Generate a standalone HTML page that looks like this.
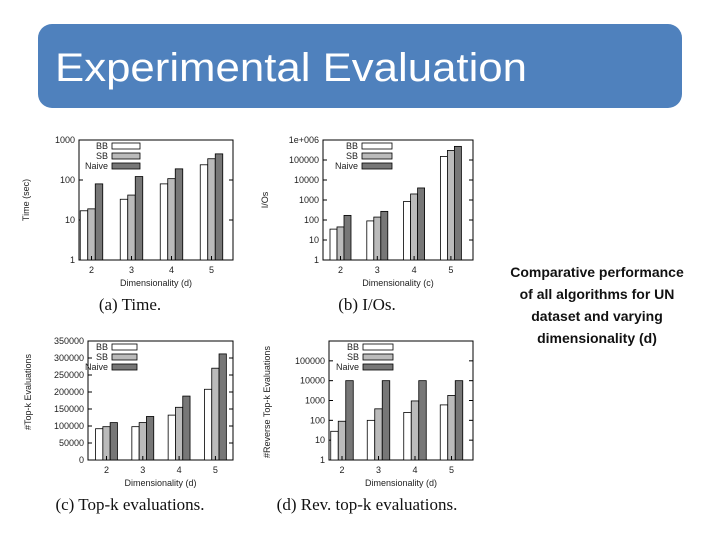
<!DOCTYPE html>
<html><head><meta charset="utf-8"><style>
body{margin:0;background:#fff;}
svg{display:block;font-family:"Liberation Sans",sans-serif;}
</style></head><body>
<svg id="root" width="720" height="540" viewBox="0 0 720 540">
<rect x="38" y="24" width="644" height="84" rx="14" fill="#4f81bd"/>
<text x="55" y="81" font-size="40" fill="#fff" textLength="472" lengthAdjust="spacingAndGlyphs">Experimental Evaluation</text>
<g font-size="14" font-weight="bold" fill="#111" text-anchor="middle">
<text x="597" y="277">Comparative performance</text>
<text x="597" y="299">of all algorithms for UN</text>
<text x="597" y="321">dataset and varying</text>
<text x="597" y="343">dimensionality (d)</text>
</g>
<g id="charts"></g>
</svg>
<script>
const categories = ["2","3","4","5"];
const seriesNames = ["BB","SB","Naive"];
const timeBB = [17, 33, 80, 240];
const timeSB = [19, 42, 108, 340];
const timeNaive = [80, 122, 190, 450];
const ioBB = [35, 90, 850, 150000];
const ioSB = [45, 140, 2000, 300000];
const ioNaive = [170, 270, 4000, 480000];
const topkBB = [92000, 98000, 132000, 208000];
const topkSB = [98000, 110000, 155000, 270000];
const topkNaive = [110000, 128000, 188000, 312000];
const revBB = [28, 100, 250, 600];
const revSB = [90, 380, 950, 1800];
const revNaive = [10000, 10000, 10000, 10000];
const timeTicks = ["1","10","100","1000"];
const ioTicks = ["1","10","100","1000","10000","100000","1e+006"];
const topkTicks = ["0","50000","100000","150000","200000","250000","300000","350000"];
const revTicks = ["1","10","100","1000","10000","100000"];

const NS = "http://www.w3.org/2000/svg";
const root = document.getElementById("charts");
function mk(tag, attrs, parent, txt){
  const e = document.createElementNS(NS, tag);
  for (const k in attrs) e.setAttribute(k, attrs[k]);
  if (txt !== undefined) e.textContent = txt;
  parent.appendChild(e);
  return e;
}
const fills = ["#ffffff","#bbbbbb","#777777"];

function chart(cfg){
  const g = mk("g", {}, root);
  
  
  const {x0,x1,y0,y1} = cfg;
  let yScale;
  if (cfg.log){
    const top = Math.log10(cfg.max);
    yScale = v => y1 - (Math.log10(v)/top)*(y1-y0);
  } else {
    yScale = v => y1 - (v/cfg.max)*(y1-y0);
  }
  const xScale = i => cfg.c0 + i*cfg.step;
  const fr = mk("rect", {x:x0,y:y0,width:x1-x0,height:y1-y0,fill:"none",stroke:"#000","stroke-width":1}, g);
  
  
  cfg.ticks.forEach((t,i)=>{
    const v = cfg.log ? Math.pow(10,i) : Number(t);
    const y = yScale(v);
    mk("line",{x1:x0,x2:x0+4,y1:y,y2:y,stroke:"#000"},g);
    mk("line",{x1:x1,x2:x1-4,y1:y,y2:y,stroke:"#000"},g);
    const tl = mk("text",{x:x0-4,y:y+3,"font-size":9,"text-anchor":"end",fill:"#222"},g,t);
    
    
  });
  const bw = cfg.bw;
  cfg.series.forEach((arr,s)=>{
    arr.forEach((v,i)=>{
      const cx = xScale(i) + (s-1)*bw;
      const y = yScale(v);
      const r = mk("rect",{x:cx-bw/2,y:y,width:bw,height:y1-y,fill:fills[s],stroke:"#000","stroke-width":0.8},g);
      
      
    });
  });
  categories.forEach((c,i)=>{
    const x = xScale(i);
    mk("line",{x1:x,x2:x,y1:y1,y2:y1-4,stroke:"#000"},g);
    const tl = mk("text",{x:x,y:y1+13,"font-size":9,"text-anchor":"middle",fill:"#222"},g,c);
    
    
  });
  seriesNames.forEach((n,s)=>{
    const y = cfg.ly + s*cfg.lstep;
    const lt = mk("text",{x:cfg.lx-4,y:y+3,"font-size":9,"text-anchor":"end",fill:"#222"},g,n);
    
    
    const lr = mk("rect",{x:cfg.lx,y:y-3,width:cfg.lw,height:6,fill:fills[s],stroke:"#000","stroke-width":0.8},g);
    
    
  });
  const xt = mk("text",{x:(x0+x1)/2,y:y1+26,"font-size":9,"text-anchor":"middle",fill:"#222"},g,cfg.xtitle);
  
  
  const yt = mk("text",{x:0,y:0,"font-size":9,"text-anchor":"middle",fill:"#222",transform:`translate(${cfg.ytx},${cfg.yty}) rotate(-90)`},g,cfg.ytitle);
  
  
  const cap = mk("text",{x:cfg.capx,y:y1+50,"font-size":17,"text-anchor":"middle",fill:"#111","font-family":"Liberation Serif, serif"},g,cfg.caption);
  
  
}

chart({name:"time-chart",x0:79,x1:233,y0:140,y1:260,log:true,max:1000,ticks:timeTicks,
  c0:91.5,step:40,bw:7.5,series:[timeBB,timeSB,timeNaive],lx:112,lw:28,ly:146,lstep:10,
  xtitle:"Dimensionality (d)",ytitle:"Time (sec)",ytx:29,yty:200,capx:130,caption:"(a) Time."});
chart({name:"io-chart",x0:323,x1:473,y0:140,y1:260,log:true,max:1e6,ticks:ioTicks,
  c0:340.5,step:36.8,bw:7,series:[ioBB,ioSB,ioNaive],lx:362,lw:30,ly:146,lstep:10,
  xtitle:"Dimensionality (c)",ytitle:"I/Os",ytx:268,yty:200,capx:367,caption:"(b) I/Os."});
chart({name:"topk-chart",x0:88,x1:233,y0:341,y1:460,log:false,max:350000,ticks:topkTicks,
  c0:106.5,step:36.3,bw:7.3,series:[topkBB,topkSB,topkNaive],lx:112,lw:25,ly:347,lstep:10,
  xtitle:"Dimensionality (d)",ytitle:"#Top-k Evaluations",ytx:31,yty:392,capx:130,caption:"(c) Top-k evaluations."});
chart({name:"rev-topk-chart",x0:329,x1:473,y0:341,y1:460,log:true,max:1e6,ticks:revTicks,
  c0:342,step:36.5,bw:7.5,series:[revBB,revSB,revNaive],lx:363,lw:30,ly:347,lstep:10,
  xtitle:"Dimensionality (d)",ytitle:"#Reverse Top-k Evaluations",ytx:270,yty:402,capx:367,caption:"(d) Rev. top-k evaluations."});
</script>
</body></html>
